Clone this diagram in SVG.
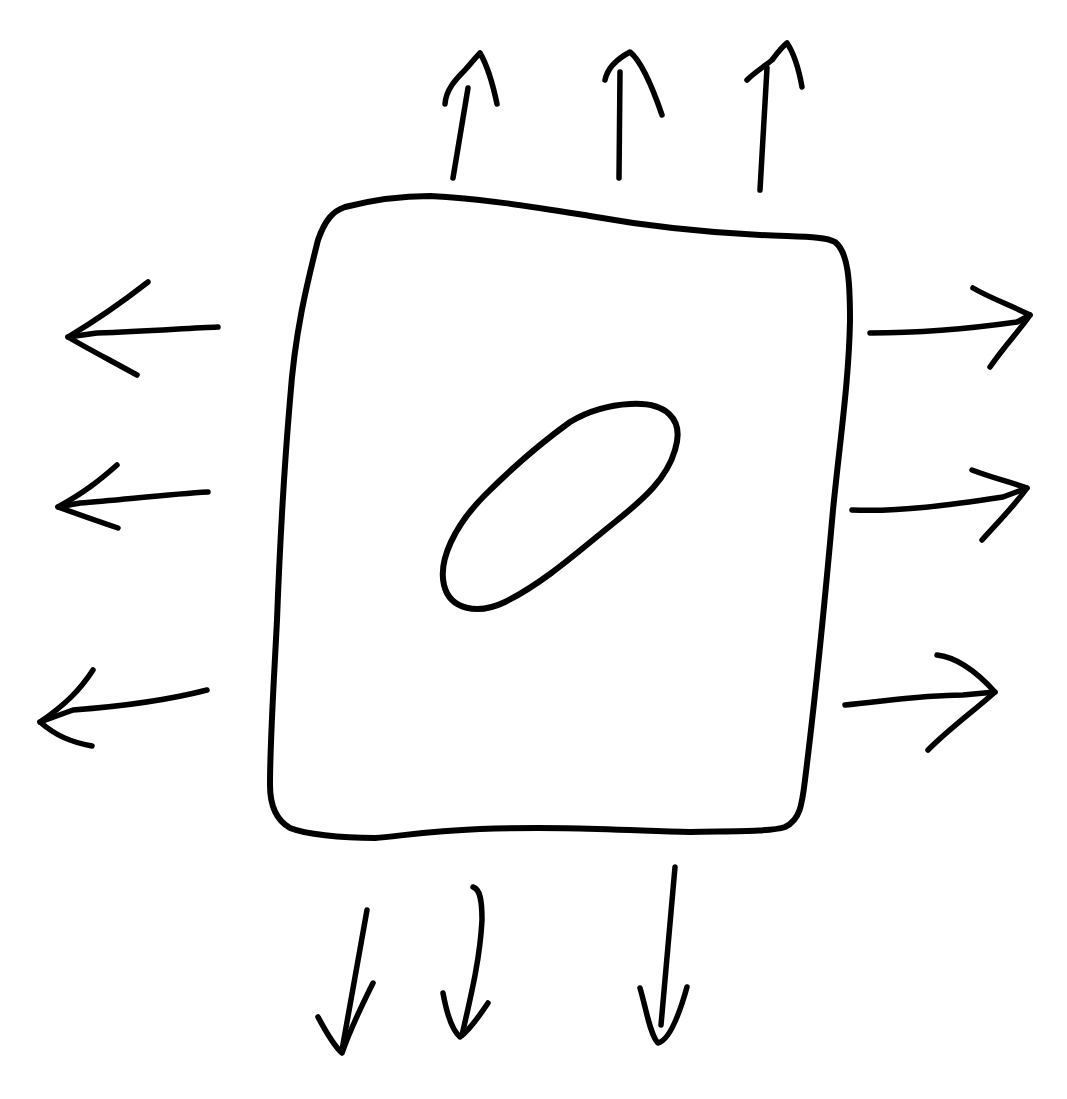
<svg xmlns="http://www.w3.org/2000/svg" width="1067" height="1099" viewBox="0 0 1067 1099">
<style>
.ink{fill:none;stroke:#000;stroke-width:6;stroke-linecap:round;stroke-linejoin:round}
.arr{fill:none;stroke:#000;stroke-width:5.5;stroke-linecap:round;stroke-linejoin:round}
</style>
<rect x="0" y="0" width="1067" height="1099" fill="#fff"/>
<g id="cell">
<path class="ink" d="M345,207 C380,198 410,196 430,196 C480,198 540,208 590,216 C640,225 700,232 760,235 C800,237 825,236 835,242 C848,252 850,280 850,320 C849,380 840,440 833,510 C825,600 815,700 805,780 C802,805 800,820 785,827 C770,832 730,831 690,832 C620,830 560,826 480,829 C430,831 400,836 375,838 C340,838 305,834 290,828 C276,820 270,805 270,785 C270,740 274,680 277,620 C280,540 284,470 290,400 C295,330 308,280 318,240 C325,220 333,211 345,207 Z"/>
</g>
<g id="nucleus">
<path class="ink" d="M630,404 C665,402 685,418 675,450 C667,478 645,498 615,522 C580,550 545,582 505,602 C478,615 450,610 444,585 C438,560 455,525 485,495 C515,465 545,440 570,422 C590,410 610,405 630,404 Z"/>
</g>
<g id="connectors">
<g id="up1"><path class="arr" d="M453,178 L468,88"/><path class="arr" d="M445,104 C446,90 455,80 465,70 C472,62 477,56 480,53 C487,65 492,80 497,104"/></g>
<g id="up2"><path class="arr" d="M619,178 L620,72"/><path class="arr" d="M605,80 C607,70 615,60 630,52 C640,60 650,80 662,115"/></g>
<g id="up3"><path class="arr" d="M760,190 L767,68"/><path class="arr" d="M747,80 C755,72 765,66 772,60 C778,52 783,46 787,43 C795,55 799,70 802,87"/></g>
<g id="left1"><path class="arr" d="M218,327 C190,328 150,331 97,333 L68,337"/><path class="arr" d="M148,282 C125,300 100,318 68,337 C90,350 110,360 137,375"/></g>
<g id="left2"><path class="arr" d="M208,492 C170,494 120,500 80,503 L58,507"/><path class="arr" d="M117,465 C100,480 85,492 58,507 C80,515 100,522 118,528"/></g>
<g id="left3"><path class="arr" d="M207,690 C180,697 140,705 73,710 L40,722"/><path class="arr" d="M93,670 C80,690 65,705 40,722 C55,735 70,742 92,746"/></g>
<g id="right1"><path class="arr" d="M870,333 C920,333 960,330 1017,322 L1030,315"/><path class="arr" d="M973,288 C990,298 1010,305 1030,315 C1020,330 1005,345 990,367"/></g>
<g id="right2"><path class="arr" d="M852,510 C900,512 950,505 1003,497 L1027,488"/><path class="arr" d="M972,470 C990,477 1010,482 1027,488 C1015,505 1000,520 982,540"/></g>
<g id="right3"><path class="arr" d="M845,705 C880,702 920,695 963,695 L995,692"/><path class="arr" d="M937,655 C955,657 975,670 995,692 C975,710 950,728 928,750"/></g>
<g id="down1"><path class="arr" d="M367,910 L342,1050"/><path class="arr" d="M318,1017 C325,1030 333,1045 342,1053 C350,1030 362,1005 373,983"/></g>
<g id="down2"><path class="arr" d="M473,887 C480,889 482,900 482,920 C480,960 470,1000 462,1035"/><path class="arr" d="M443,993 C447,1015 452,1030 460,1037 C470,1030 480,1015 488,1003"/></g>
<g id="down3"><path class="arr" d="M675,867 L661,1025"/><path class="arr" d="M640,988 C646,1008 650,1035 658,1043 C670,1040 680,1012 687,987"/></g>
</g>
</svg>
